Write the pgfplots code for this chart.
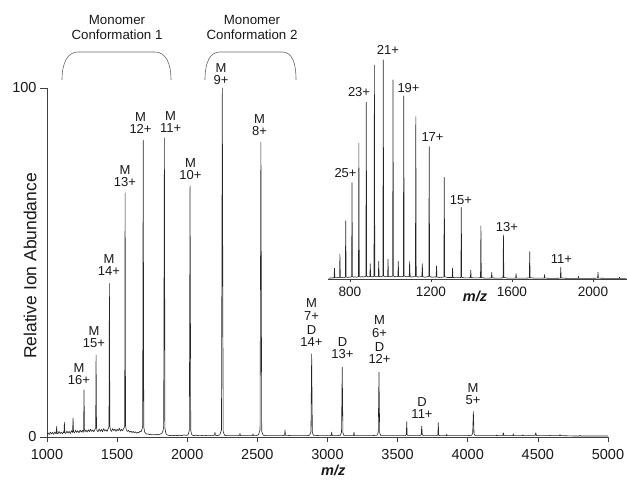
\documentclass[border=0pt]{standalone}
\usepackage{pgfplots}
\pgfplotsset{compat=1.18}
\usepackage{fontspec}
\setmainfont{Liberation Sans}

\newcommand\lblfont{\fontsize{13}{12.5}\selectfont}
\newcommand\tickfont{\fontsize{14.5}{17}\selectfont}
\newcommand\insettickfont{\fontsize{13.6}{16}\selectfont}

\tikzset{
  lab/.style={anchor=south, inner sep=0pt, align=center, font=\lblfont, text=black!90},
  spec/.style={black!85, line width=0.6pt, line join=round, sharp plot, mark=none},
}

\begin{document}
\begin{tikzpicture}[x=1pt,y=1pt]
\useasboundingbox (0,0) rectangle (627,480);

% ---------------- main spectrum ----------------
\begin{axis}[
  scale only axis, width=561pt, height=349pt,
  at={(47pt,43pt)}, anchor=south west,
  xmin=1000, xmax=5000, ymin=0, ymax=100,
  axis x line*=bottom, axis y line*=left,
  axis line style={-, black!75, line width=0.6pt},
  xtick={1000,1500,...,5000}, ytick={0,100},
  tick align=outside, major tick length=5pt,
  tick style={black!75, line width=0.6pt},
  y tick style={/pgfplots/major tick length=7pt},
  /pgf/number format/assume math mode=true,
  /pgf/number format/1000 sep={},
  xticklabel style={font=\tickfont, text=black!90, yshift=-4pt},
  yticklabel style={font=\tickfont, text=black!90, xshift=-2pt},
  clip=false,
]
\addplot[spec] coordinates {
(1000,0.8) (1008,1.2) (1016,0.7) (1024,1.4) (1032,0.9) (1040,1.3) (1048,0.8) (1056,1.5)
(1063,1.0) (1066,1.0) (1069,3.1) (1072,1.1) (1078,0.9) (1086,1.6) (1094,1.0) (1102,1.4)
(1110,0.9) (1118,1.5) (1121,1.2) (1124,4.2) (1127,1.3) (1134,1.0) (1142,1.7) (1150,1.1)
(1158,1.6) (1166,1.0) (1174,1.8) (1182,1.3) (1186,5.5) (1189,1.5) (1196,1.2) (1204,1.9)
(1212,1.3) (1220,1.8) (1228,1.2) (1236,2.0) (1244,1.4) (1252,1.9) (1258,1.3) (1261,2.0)
(1264,13.5) (1267,2.2) (1271,1.5) (1278,2.0) (1286,1.4) (1294,2.1) (1302,1.5) (1310,2.2)
(1318,1.6) (1326,2.0) (1334,1.5) (1342,2.2) (1347,2.5) (1350,23.5) (1353,2.8) (1357,1.8)
(1364,1.5) (1372,2.3) (1380,1.6) (1388,2.2) (1396,1.5) (1404,2.4) (1412,1.7) (1420,2.1)
(1428,1.6) (1436,2.3) (1442,3.0) (1445,44) (1448,3.2) (1453,2.0) (1460,1.6) (1468,2.4)
(1476,1.8) (1484,2.3) (1492,1.6) (1500,2.2) (1508,1.8) (1516,2.5) (1524,1.7) (1532,2.2)
(1540,1.8) (1546,2.4) (1554,3.0) (1557,70) (1560,3.2) (1566,2.0) (1574,1.6) (1582,1.9)
(1590,1.4) (1598,1.7) (1606,1.3) (1614,1.6) (1622,1.2) (1630,1.5) (1638,1.1) (1646,1.4)
(1654,1.2) (1662,1.6) (1670,1.5) (1676,2.0) (1682,3.0) (1686,85) (1690,2.8) (1697,1.4)
(1705,1.0) (1714,0.8) (1722,0.9) (1730,0.7) (1738,0.8) (1746,0.6) (1754,0.7) (1762,0.6)
(1770,0.7) (1778,0.6) (1786,0.8) (1794,0.6) (1802,0.7) (1810,0.9) (1818,1.0) (1826,1.6)
(1832,3.0) (1837,85.7) (1841,2.5) (1848,1.0) (1856,0.6) (1866,0.5) (1878,0.4) (1890,0.5)
(1902,0.4) (1915,0.5) (1930,0.4) (1945,0.5) (1960,0.4) (1975,0.6) (1990,0.5) (2000,0.5)
(2008,0.8) (2015,2.0) (2020,72) (2025,1.8) (2033,0.6) (2045,0.4) (2060,0.5) (2080,0.4)
(2100,0.4) (2120,0.5) (2140,0.4) (2160,0.4) (2180,0.4) (2195,0.6) (2198,1.3) (2201,0.5)
(2215,0.4) (2232,0.6) (2244,2.0) (2250,100) (2256,1.6) (2266,0.5) (2280,0.4) (2300,0.4)
(2330,0.4) (2360,0.4) (2373,0.5) (2376,1.0) (2379,0.4) (2400,0.4) (2430,0.4) (2460,0.4)
(2466,0.5) (2469,0.9) (2472,0.4) (2490,0.4) (2508,0.6) (2519,2.0) (2525,84.5) (2531,1.6)
(2542,0.5) (2560,0.4) (2600,0.4) (2640,0.4) (2680,0.4) (2694,0.5) (2697,2.0) (2700,0.5)
(2740,0.4) (2780,0.4) (2820,0.4) (2860,0.4) (2874,0.6) (2882,1.5) (2887,23.8) (2892,1.3)
(2900,0.5) (2940,0.4) (2980,0.4) (3020,0.4) (3027,0.5) (3030,1.4) (3033,0.4) (3070,0.4)
(3092,0.5) (3100,1.4) (3105,20) (3110,1.2) (3118,0.4) (3150,0.4) (3183,0.4) (3186,0.5)
(3189,1.4) (3192,0.4) (3230,0.4) (3280,0.4) (3320,0.4) (3354,0.5) (3362,1.4) (3367,18.6)
(3372,1.2) (3380,0.4) (3420,0.4) (3470,0.4) (3520,0.4) (3555,0.4) (3562,0.7) (3565,4.4)
(3568,0.6) (3575,0.4) (3620,0.4) (3660,0.4) (3668,0.7) (3672,3.1) (3676,0.6) (3684,0.4)
(3740,0.4) (3780,0.4) (3787,0.6) (3790,4.1) (3793,0.5) (3800,0.4) (3845,0.4) (3848,0.4)
(3850,0.8) (3852,0.4) (3900,0.4) (3950,0.4) (4000,0.4) (4028,0.5) (4035,1.0) (4040,7.3)
(4045,0.9) (4052,0.4) (4100,0.4) (4150,0.4) (4204,0.4) (4207,0.6) (4210,0.4) (4250,0.4)
(4254,1.2) (4258,0.4) (4322,0.4) (4325,0.9) (4328,0.4) (4389,0.4) (4392,0.6) (4395,0.4)
(4480,0.4) (4485,1.2) (4490,0.4) (4583,0.4) (4586,0.5) (4589,0.4) (4655,0.4) (4658,0.7)
(4661,0.4) (4750,0.3) (4797,0.3) (4800,0.5) (4803,0.3) (4900,0.3) (5000,0.3)
};

% charge-state assignments (M = monomer, D = dimer)
\node[lab] at (axis cs:1228,14.9) {M\\16+};
\node[lab] at (axis cs:1335,25.5) {M\\15+};
\node[lab] at (axis cs:1442,46.1) {M\\14+};
\node[lab] at (axis cs:1556,71.6) {M\\13+};
\node[lab] at (axis cs:1667,86.8) {M\\12+};
\node[lab] at (axis cs:1881,87.1) {M\\11+};
\node[lab] at (axis cs:2023,73.6) {M\\10+};
\node[lab] at (axis cs:2241,100.9) {M\\9+};
\node[lab] at (axis cs:2515,86.2) {M\\8+};
\node[lab] at (axis cs:2886,25.8) {M\\7+\\[1.5pt]D\\14+};
\node[lab] at (axis cs:3107,22.3) {D\\13+};
\node[lab] at (axis cs:3371,20.9) {M\\6+\\[1.5pt]D\\12+};
\node[lab] at (axis cs:3674,5.2) {D\\11+};
\node[lab] at (axis cs:4037,9.2) {M\\5+};

% axis titles
\node[rotate=90, font=\fontsize{17.5}{20}\selectfont, text=black!90]
  at (axis cs:879,49) {Relative Ion Abundance};
\node[font=\tickfont\bfseries\itshape, text=black!90] at (axis cs:3041,-9.5) {m/z};
\end{axis}

% ---------------- inset: full-range spectrum ----------------
\begin{axis}[
  scale only axis, width=299pt, height=219pt,
  at={(328pt,201pt)}, anchor=south west,
  xmin=692, xmax=2168, ymin=0, ymax=100,
  axis x line*=bottom, axis y line=none,
  axis line style={-, black!75, line width=0.6pt},
  xtick={800,1200,1600,2000}, ytick=\empty,
  tick align=outside, major tick length=3pt,
  tick style={black!75, line width=0.6pt},
  /pgf/number format/assume math mode=true,
  /pgf/number format/1000 sep={},
  xticklabel style={font=\insettickfont, text=black!90, yshift=-1pt},
  clip=false,
]
\addplot[spec] coordinates {
(695,0.3) (705,0.5) (712,0.4) (718,0.6) (722,0.5) (723.9,4.9) (726,0.6) (732,0.5)
(740,0.7) (746,0.6) (749,0.7) (750.7,11.3) (753,0.8) (758,0.6) (765,0.8) (772,0.7)
(777.5,0.8) (779.5,26.5) (781.5,1.0) (788,0.7) (795,0.9) (802,0.8) (808.6,1.0) (810.6,44)
(812.6,1.1) (818,0.8) (826,1.0) (834,0.8) (842.4,1.1) (844.4,62) (846.4,1.2) (852,0.9)
(860,1.1) (868,0.9) (874,1.1) (879,1.2) (881,80.7) (883,1.3) (889,1.0) (895,1.1)
(898.6,1.1) (900.6,7) (902.6,1.1) (910,1.0) (916,1.1) (919,1.2) (921,97.7) (923,1.3)
(930,1.0) (937,1.1) (940.4,1.1) (942.4,8) (944.4,1.2) (952,1.0) (958,1.2) (962.9,1.3)
(964.9,100) (966.9,1.4) (975,1.0) (982,1.1) (986.4,1.1) (988.4,9) (990.4,1.2) (998,1.0)
(1005,1.2) (1011,1.3) (1013,90.9) (1015,1.4) (1022,1.0) (1030,1.1) (1037,1.1) (1039,8)
(1041,1.2) (1050,1.0) (1058,1.1) (1064,1.2) (1066,83.6) (1068,1.3) (1078,1.0) (1087,1.1)
(1093,1.1) (1095,8) (1097,1.1) (1105,0.9) (1115,1.1) (1123.5,1.1) (1125.5,74.1) (1127.5,1.3)
(1137,0.9) (1148,1.0) (1155.6,1.1) (1157.6,7) (1159.6,1.1) (1170,0.8) (1181,1.0) (1189.6,1.1)
(1191.6,60.4) (1193.6,1.2) (1205,0.8) (1216,0.9) (1225.7,0.9) (1227.7,6) (1229.7,0.9) (1242,0.7)
(1255,0.8) (1264,0.9) (1266,46.4) (1268,1.0) (1282,0.7) (1295,0.7) (1304.9,0.7) (1306.9,5)
(1308.9,0.7) (1322,0.6) (1336,0.6) (1348,0.7) (1350,32.7) (1352,0.8) (1366,0.5) (1382,0.5)
(1394.9,0.6) (1396.9,4) (1398.9,0.6) (1414,0.5) (1430,0.5) (1444.8,0.6) (1446.8,24.2) (1448.8,0.7)
(1465,0.4) (1482,0.4) (1498.3,0.5) (1500.3,3) (1502.3,0.5) (1520,0.4) (1540,0.4) (1556,0.5)
(1558,20.1) (1560,0.7) (1580,0.4) (1600,0.4) (1618.3,0.4) (1620.3,2.5) (1622.3,0.4) (1645,0.4)
(1665,0.4) (1685.8,0.5) (1687.8,12.5) (1689.8,0.6) (1710,0.4) (1735,0.4) (1759,0.4) (1761,2)
(1763,0.4) (1790,0.3) (1815,0.3) (1839,0.4) (1841,5.3) (1843,0.5) (1870,0.3) (1900,0.3)
(1926.7,0.3) (1928.7,1.2) (1930.7,0.3) (1960,0.3) (1995,0.3) (2023,0.4) (2025,3.1) (2027,0.4)
(2060,0.3) (2100,0.3) (2129,0.3) (2131,0.8) (2133,0.3) (2165,0.3)
};
\node[lab] at (axis cs:778.5,46.1) {25+};
\node[lab] at (axis cs:845.2,83.1) {23+};
\node[lab] at (axis cs:988.3,102.3) {21+};
\node[lab] at (axis cs:1089.5,84.9) {19+};
\node[lab] at (axis cs:1208,62.6) {17+};
\node[lab] at (axis cs:1348.6,33.8) {15+};
\node[lab] at (axis cs:1575.6,21.5) {13+};
\node[lab] at (axis cs:1844.7,6.8) {11+};
\node[font=\tickfont\bfseries\itshape, text=black!90] at (axis cs:1418,-7.8) {m/z};
\end{axis}

% conformer groupings
\begin{scope}[black!60, line width=0.6pt]
\draw (62,400) .. controls (62,418) and (68,428) .. (78,428) -- (155,428)
      .. controls (165,428) and (171,418) .. (171,400);
\draw (205,400) .. controls (205,418) and (210,428) .. (220,428) -- (282,428)
      .. controls (292,428) and (296,418) .. (296,400);
\end{scope}
\begin{scope}[every node/.style={anchor=base, inner sep=0pt, font=\fontsize{13.3}{15}\selectfont, text=black!90}]
\node at (117,455) {Monomer};
\node at (117,440) {Conformation 1};
\node at (252,455) {Monomer};
\node at (252,440) {Conformation 2};
\end{scope}
\end{tikzpicture}
\end{document}
